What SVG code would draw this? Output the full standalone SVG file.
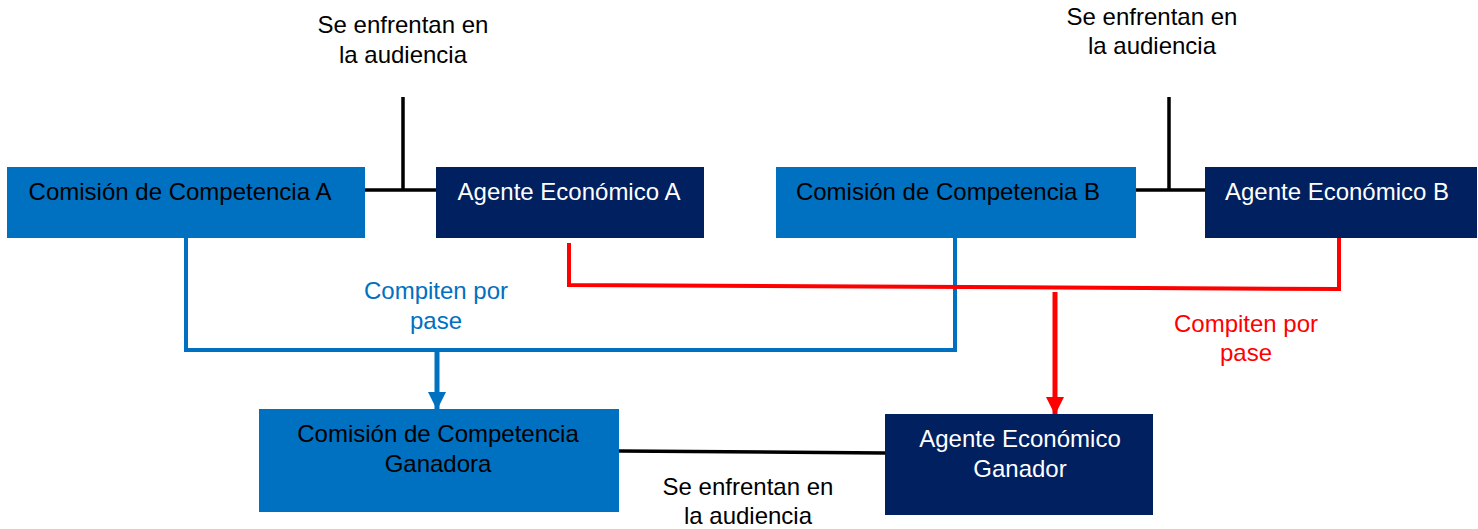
<svg xmlns="http://www.w3.org/2000/svg" width="1478" height="529" viewBox="0 0 1478 529">
<style>
text{font-family:"Liberation Sans",Arial,sans-serif;font-size:24px;text-anchor:middle}
.com{fill:#0070C0}
.age{fill:#002060}
.tk{fill:#000}
.tw{fill:#fff}
.tb{fill:#0070C0}
.tr{fill:#FF0000}
.ln{fill:none;stroke-width:4}
.bk{stroke:#000;stroke-width:3.5}
.bl{stroke:#0070C0}
.rd{stroke:#FF0000}
.ar{stroke-width:5}
</style>
<defs>
<marker id="ab" markerWidth="18" markerHeight="18" viewBox="0 0 18 18" refX="18" refY="9" orient="auto" markerUnits="userSpaceOnUse">
<path d="M0,0 L18,9 L0,18 Z" fill="#0070C0"/>
</marker>
<marker id="ar" markerWidth="18" markerHeight="18" viewBox="0 0 18 18" refX="18" refY="9" orient="auto" markerUnits="userSpaceOnUse">
<path d="M0,0 L18,9 L0,18 Z" fill="#FF0000"/>
</marker>
</defs>
<g id="connectors">
<path class="ln bk" d="M365,190 H436 M403,97 V190"/>
<path class="ln bk" d="M1136,190 H1205 M1169,97 V190"/>
<path class="ln bk" d="M619,451 L885,453"/>
<path class="ln bl" d="M186,238 V350 H955 V238"/>
<path class="ln bl ar" d="M437,351 V410" marker-end="url(#ab)"/>
<path class="ln rd" d="M569,243 V285 L1339,289 V238"/>
<path class="ln rd ar" d="M1055,292 V415" marker-end="url(#ar)"/>
</g>
<g id="label-top-a">
<text class="tk" x="403" y="33">Se enfrentan en</text>
<text class="tk" x="403" y="63">la audiencia</text>
</g>
<g id="label-top-b">
<text class="tk" x="1152" y="25">Se enfrentan en</text>
<text class="tk" x="1152" y="54">la audiencia</text>
</g>
<g id="node-ca">
<rect class="com" x="7" y="167" width="358" height="71"/>
<text class="tk" x="180" y="200">Comisión de Competencia A</text>
</g>
<g id="node-aea">
<rect class="age" x="436" y="167" width="268" height="71"/>
<text class="tw" x="569" y="200">Agente Económico A</text>
</g>
<g id="node-cb">
<rect class="com" x="776" y="167" width="360" height="71"/>
<text class="tk" x="948" y="200">Comisión de Competencia B</text>
</g>
<g id="node-aeb">
<rect class="age" x="1205" y="167" width="272" height="71"/>
<text class="tw" x="1337" y="200">Agente Económico B</text>
</g>
<g id="label-blue">
<text class="tb" x="436" y="299">Compiten por</text>
<text class="tb" x="436" y="329">pase</text>
</g>
<g id="label-red">
<text class="tr" x="1246" y="332">Compiten por</text>
<text class="tr" x="1246" y="361">pase</text>
</g>
<g id="node-ccg">
<rect class="com" x="259" y="409" width="360" height="103"/>
<text class="tk" x="438" y="442">Comisión de Competencia</text>
<text class="tk" x="438" y="472">Ganadora</text>
</g>
<g id="node-aeg">
<rect class="age" x="885" y="414" width="268" height="101"/>
<text class="tw" x="1020" y="447">Agente Económico</text>
<text class="tw" x="1020" y="477">Ganador</text>
</g>
<g id="label-bottom">
<text class="tk" x="748" y="495">Se enfrentan en</text>
<text class="tk" x="748" y="524">la audiencia</text>
</g>
</svg>
